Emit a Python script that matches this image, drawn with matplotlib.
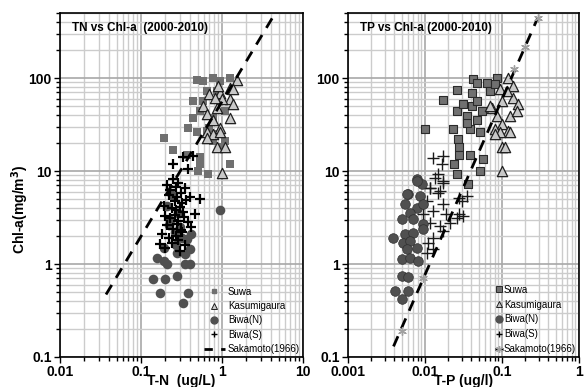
import matplotlib.pyplot as plt
from matplotlib.lines import Line2D
from matplotlib.ticker import LogLocator, FixedLocator, NullFormatter

plt.rcParams['font.family'] = ['Liberation Sans', 'DejaVu Sans']

# ---- TN vs Chl-a (left panel) ----
tn_suwa = [0.49, 0.58, 0.78, 0.95, 1.26, 0.44, 0.53, 0.44, 0.38, 0.49, 0.19, 0.25, 0.53, 0.53, 0.67,
           1.26, 0.78, 0.95, 1.1, 0.70, 0.58, 0.65, 0.87, 0.95, 0.78, 0.65, 0.87, 0.37, 0.50, 1.1]
chl_tn_suwa = [95, 93, 100, 93, 100, 57, 44, 37, 29, 26, 22.6, 17, 14, 12, 9.3,
               12, 21, 18, 21, 29, 57, 72, 72, 57, 37, 27, 25, 15, 10, 44]
tn_kasu = [1.53, 1.26, 0.95, 0.70, 1.26, 1.0, 0.58, 0.87, 1.38, 0.65, 1.26, 0.78, 0.95, 0.65, 0.78,
           0.95, 0.65, 0.87, 1.1, 1.0, 0.82, 1.38, 0.9]
chl_tn_kasu = [95, 79, 69, 67, 59, 59, 50, 48, 52, 41, 37, 35, 29, 26, 25,
               26, 22.6, 18, 18, 9.5, 61, 76, 82]
tn_biwan = [0.157, 0.19, 0.21, 0.14, 0.20, 0.28, 0.17, 0.38, 0.33, 0.35, 0.40, 0.95, 0.28, 0.37,
            0.40, 0.42, 0.21, 0.23, 0.26, 0.30, 0.27, 0.32, 0.24, 0.29, 0.35, 0.22, 0.19]
chl_tn_biwan = [1.16, 1.08, 1.0, 0.69, 0.69, 0.74, 0.49, 0.49, 0.38, 1.0, 1.0, 3.8, 1.3, 1.85,
                1.45, 2.1, 4.2, 3.0, 2.2, 2.5, 1.6, 1.9, 5.5, 3.5, 1.28, 2.6, 1.5]
tn_biwas = [0.25, 0.33, 0.44, 0.38, 0.25, 0.53, 0.17, 0.30, 0.46, 0.21, 0.23, 0.27, 0.29, 0.31, 0.35,
            0.22, 0.26, 0.28, 0.32, 0.36, 0.40, 0.19, 0.24, 0.27, 0.30, 0.33, 0.20, 0.23, 0.26, 0.29,
            0.34, 0.38, 0.21, 0.25, 0.28, 0.31, 0.18, 0.22, 0.27, 0.32, 0.24, 0.29, 0.35, 0.42, 0.20]
chl_tn_biwas = [12, 14, 14.5, 10.5, 8.2, 5.0, 1.64, 1.38, 3.45, 7.0, 6.2, 6.8, 7.5, 5.8, 6.5,
                5.5, 4.8, 5.2, 4.5, 4.9, 5.3, 4.2, 4.0, 3.8, 4.1, 3.6, 3.3, 3.1, 3.4, 2.9,
                3.2, 2.8, 2.6, 2.4, 2.7, 2.3, 2.1, 1.9, 2.0, 2.2, 1.7, 1.8, 1.6, 2.5, 1.5]
tn_sakamoto = [0.037, 4.8]
chl_tn_sakamoto = [0.47, 540]

# ---- TP vs Chl-a (right panel) ----
tp_suwa = [0.010, 0.0171, 0.026, 0.042, 0.047, 0.063, 0.086, 0.041, 0.026, 0.031, 0.041, 0.023, 0.027,
           0.028, 0.028, 0.038, 0.024, 0.026, 0.057, 0.052, 0.036, 0.035, 0.047, 0.055, 0.038, 0.052,
           0.07, 0.047, 0.035, 0.081]
chl_tp_suwa = [28, 58, 74, 97, 88, 88, 100, 69, 44, 52, 50, 28, 22, 18, 15, 15, 12, 9.2, 13.5, 10,
               7.2, 39, 35, 44, 28, 26, 72, 57, 33, 86]
tp_kasu = [0.12, 0.14, 0.094, 0.1, 0.14, 0.16, 0.074, 0.086, 0.126, 0.1, 0.081, 0.12, 0.094, 0.081,
           0.126, 0.1, 0.11, 0.1, 0.156, 0.116, 0.07]
chl_tp_kasu = [100, 82, 76, 57, 61, 52, 48, 39, 39, 32, 28, 27, 26, 25, 26, 18, 18, 10, 44, 72, 50]
tp_biwan = [0.0079, 0.0091, 0.006, 0.0086, 0.0055, 0.0079, 0.0094, 0.0064, 0.005, 0.007, 0.0094,
            0.0038, 0.0055, 0.007, 0.0094, 0.0052, 0.0064, 0.0058, 0.0079, 0.005, 0.0064, 0.0081,
            0.005, 0.006, 0.0041, 0.006, 0.005, 0.0058, 0.0079]
chl_tp_biwan = [8.2, 7.2, 5.7, 5.4, 4.4, 4.0, 4.4, 3.55, 3.05, 3.05, 2.7, 1.9, 2.1, 2.15, 2.4, 1.68,
                1.77, 1.45, 1.49, 1.13, 1.16, 1.08, 0.74, 0.72, 0.51, 0.51, 0.42, 5.7, 7.8]
tp_biwas = [0.0127, 0.017, 0.0166, 0.0135, 0.017, 0.0116, 0.0147, 0.028, 0.0147, 0.017, 0.0116,
            0.0155, 0.03, 0.035, 0.0106, 0.017, 0.0127, 0.019, 0.026, 0.028, 0.0116, 0.0155, 0.021,
            0.0127, 0.0109, 0.0127, 0.017, 0.0094, 0.031, 0.0106]
chl_tp_biwas = [13.8, 14.5, 11.8, 8.4, 7.4, 6.6, 5.8, 5.1, 9.3, 7.8, 6.5, 6.1, 4.8, 5.4, 4.7, 4.4,
                3.7, 3.45, 3.1, 3.45, 2.75, 2.55, 2.75, 1.9, 1.68, 1.45, 2.26, 3.45, 3.3, 1.3]
tp_sakamoto = [0.0039, 0.29]
chl_tp_sakamoto = [0.13, 440]
tp_sakamoto_pts = [0.005, 0.0094, 0.143, 0.2, 0.29]
chl_sakamoto_pts = [0.19, 0.7, 125, 215, 440]

labels = ['Suwa', 'Kasumigaura', 'Biwa(N)', 'Biwa(S)', 'Sakamoto(1966)']

fig = plt.figure(figsize=(5.84, 3.87), dpi=100)
ax1 = fig.add_axes([60 / 584, 1 - 357 / 387, 243 / 584, 344 / 387])
ax2 = fig.add_axes([348 / 584, 1 - 357 / 387, 231 / 584, 344 / 387])


def style_axis(ax, xlim):
    ax.set_xscale('log')
    ax.set_yscale('log')
    ax.set_xlim(*xlim)
    ax.set_ylim(0.1, 500)
    ax.xaxis.set_minor_locator(LogLocator(base=10, subs=range(2, 10), numticks=20))
    ax.yaxis.set_minor_locator(LogLocator(base=10, subs=range(2, 10), numticks=20))
    ax.xaxis.set_minor_formatter(NullFormatter())
    ax.yaxis.set_minor_formatter(NullFormatter())
    ax.grid(True, which='major', color='#a8a8a8', lw=1.2)
    ax.grid(True, which='minor', color='#cccccc', lw=1.0)
    ax.set_axisbelow(True)
    ax.tick_params(which='both', direction='out', length=3, width=1, pad=2)
    ax.tick_params(which='major', length=4, labelsize=10)
    for sp in ax.spines.values():
        sp.set_linewidth(1.2)


# left panel
style_axis(ax1, (0.01, 10))
ax1.yaxis.set_major_locator(FixedLocator([0.1, 1, 10, 100]))
ax1.set_yticklabels(['0.1', '1', '10', '100'], fontweight='bold')
ax1.xaxis.set_major_locator(FixedLocator([0.01, 0.1, 1, 10]))
ax1.set_xticklabels(['0.01', '0.1', '1', '10'], fontweight='bold')
ax1.scatter(tn_suwa, chl_tn_suwa, marker='s', s=32, color='#707070', lw=0, zorder=3)
ax1.scatter(tn_kasu, chl_tn_kasu, marker='^', s=55, facecolor='#c8c8c8', edgecolor='#202020', lw=0.9, zorder=4)
ax1.scatter(tn_biwan, chl_tn_biwan, marker='o', s=48, color='#505050', lw=0, zorder=3)
ax1.scatter(tn_biwas, chl_tn_biwas, marker='+', s=60, color='black', lw=1.6, zorder=5)
ax1.plot(tn_sakamoto, chl_tn_sakamoto, color='black', ls=(0, (4, 3)), lw=2, zorder=6)
ax1.text(0.05, 0.955, 'TN vs Chl-a  (2000-2010)', transform=ax1.transAxes, fontsize=8.5,
         fontweight='bold', va='center', ha='left')
ax1.set_xlabel('T-N  (ug/L)', fontsize=10, fontweight='bold', labelpad=-4)
ax1.set_ylabel('Chl-a(mg/m$^\\mathbf{3}$)', fontsize=10, fontweight='bold')
ax1.yaxis.set_label_coords(-0.12, 0.43)

h1 = [Line2D([], [], ls='none', marker='s', ms=3, color='#707070'),
      Line2D([], [], ls='none', marker='^', ms=4, mfc='#c8c8c8', mec='#202020', mew=0.7),
      Line2D([], [], ls='none', marker='o', ms=5, color='#505050'),
      Line2D([], [], ls='none', marker='+', ms=5, color='black', mew=1),
      Line2D([], [], color='black', ls=(0, (3, 3)), lw=2)]
ax1.legend(h1, labels, loc='lower right', bbox_to_anchor=(1.0, 0.0), frameon=False, fontsize=7,
           handlelength=2.2, handletextpad=0.3, labelspacing=0.45, borderaxespad=0.2, borderpad=0.1)

# right panel
style_axis(ax2, (0.001, 1))
ax2.yaxis.set_major_locator(FixedLocator([0.1, 1, 10, 100]))
ax2.set_yticklabels(['0.1', '1', '10', '100'], fontweight='bold')
ax2.xaxis.set_major_locator(FixedLocator([0.001, 0.01, 0.1, 1]))
ax2.set_xticklabels(['0.001', '0.01', '0.1', '1'], fontweight='bold')
ax2.scatter(tp_suwa, chl_tp_suwa, marker='s', s=32, facecolor='#707070', edgecolor='#2a2a2a', lw=0.8, zorder=3)
ax2.scatter(tp_kasu, chl_tp_kasu, marker='^', s=55, facecolor='#c8c8c8', edgecolor='#202020', lw=0.9, zorder=4)
ax2.scatter(tp_biwas, chl_tp_biwas, marker='+', s=70, color='#1a1a1a', lw=1.0, zorder=3)
ax2.scatter(tp_biwan, chl_tp_biwan, marker='o', s=48, facecolor='#505050', edgecolor='#303030', lw=0.5, zorder=3)
ax2.plot(tp_sakamoto, chl_tp_sakamoto, color='black', ls=(0, (4, 3)), lw=2, zorder=6)
ax2.scatter(tp_sakamoto_pts, chl_sakamoto_pts, marker=(6, 2, 0), s=30, color='#a0a0a0', lw=1, zorder=7)
ax2.text(0.05, 0.955, 'TP vs Chl-a (2000-2010)', transform=ax2.transAxes, fontsize=8.5,
         fontweight='bold', va='center', ha='left')
ax2.set_xlabel('T-P (ug/l)', fontsize=10, fontweight='bold', labelpad=-4)

h2 = [Line2D([], [], ls='none', marker='s', ms=4, mfc='#707070', mec='#2a2a2a', mew=0.7),
      Line2D([], [], ls='none', marker='^', ms=4, mfc='#c8c8c8', mec='#202020', mew=0.7),
      Line2D([], [], ls='none', marker='o', ms=5, color='#505050'),
      Line2D([], [], ls='none', marker='+', ms=5, color='black', mew=1),
      Line2D([], [], color='black', ls=(0, (3, 3)), lw=2, marker=(6, 2, 0), ms=5, mec='#a0a0a0')]
ax2.legend(h2, labels, loc='lower right', bbox_to_anchor=(1.0, 0.0), frameon=False, fontsize=7,
           handlelength=0.8, handletextpad=0.1, labelspacing=0.5, borderaxespad=0.2, borderpad=0.1)

fig.savefig('out.png', dpi=100)
